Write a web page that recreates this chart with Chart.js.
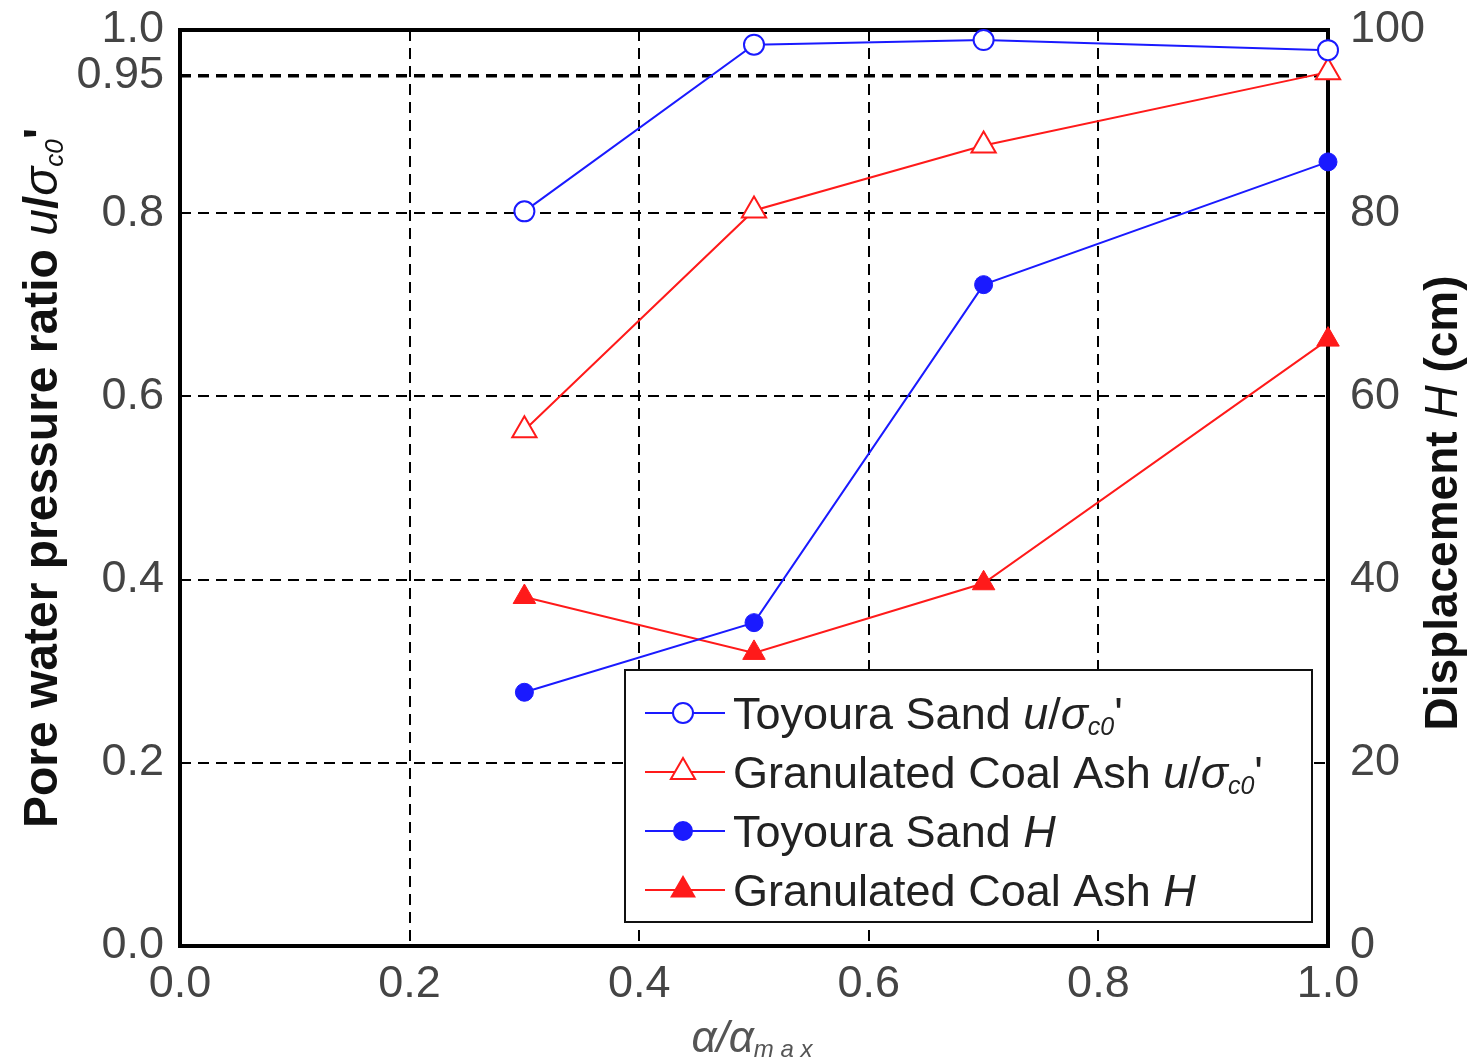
<!DOCTYPE html>
<html>
<head>
<meta charset="utf-8">
<script src="https://cdn.jsdelivr.net/npm/chart.js@4.4.0/dist/chart.umd.min.js"></script>
<style>
  body { margin: 0; background: #fff; }
</style>
</head>
<body>
<canvas id="grafico" width="1470" height="1058"></canvas>
<script>
// dados
const alphaRatio = [0.3, 0.5, 0.7, 1.0];
const toyouraU = [0.802, 0.984, 0.989, 0.978];
const coalAshU = [0.563, 0.803, 0.874, 0.954];
const toyouraH = [27.7, 35.3, 72.2, 85.6];
const coalAshH = [38.1, 32.0, 39.6, 66.2];

const yTicks = [0, 0.2, 0.4, 0.6, 0.8, 0.95, 1.0];
const y1Ticks = [0, 20, 40, 60, 80, 100];
const xTicks = [0, 0.2, 0.4, 0.6, 0.8, 1.0];

const FONTE = '"Liberation Sans", Arial, sans-serif';
const AZUL = '#1a1aff';
const VERMELHO = '#ff1a1a';

function pares(xs, ys) {
    return xs.map((x, i) => ({ x: x, y: ys[i] }));
}

// texto com partes em italico / subscrito
function textoRico(ctx, partes, x, y, tamanho, peso, cor, alinhar) {
    const fontDe = p => {
        let s = p[1] === 'sub' ? Math.round(tamanho * 0.55) : tamanho;
        let it = (p[1] === 'i' || p[1] === 'sub') ? 'italic ' : '';
        let w = (p[1] === 'sub' || p[1] === 'i') ? 'normal ' : peso + ' ';
        return it + w + s + 'px ' + FONTE;
    };
    let total = 0;
    partes.forEach(p => {
        ctx.font = fontDe(p);
        total += ctx.measureText(p[0]).width;
    });
    let cx = alinhar === 'center' ? x - total / 2 : x;
    ctx.fillStyle = cor;
    ctx.textBaseline = 'alphabetic';
    ctx.textAlign = 'left';
    partes.forEach(p => {
        ctx.font = fontDe(p);
        let dy = p[1] === 'sub' ? tamanho * 0.12 : 0;
        ctx.fillText(p[0], cx, y + tamanho * 0.36 + dy);
        cx += ctx.measureText(p[0]).width;
    });
}

const uSigma = [['u', 'i'], ['/', ''], ['σ', 'i'], ['c0', 'sub'], ["'", '']];

const legendaItens = [
    { ds: 0, partes: [['Toyoura Sand ', '']].concat(uSigma) },
    { ds: 1, partes: [['Granulated Coal Ash ', '']].concat(uSigma) },
    { ds: 2, partes: [['Toyoura Sand ', ''], ['H', 'i']] },
    { ds: 3, partes: [['Granulated Coal Ash ', ''], ['H', 'i']] }
];

const moldura = {
    id: 'moldura',
    beforeDatasetsDraw(chart) {
        const { ctx, chartArea: a } = chart;
        ctx.save();
        ctx.strokeStyle = '#000';
        ctx.lineWidth = 4;
        ctx.strokeRect(a.left, a.top, a.right - a.left, a.bottom - a.top);
        ctx.restore();
    },
    afterDraw(chart) {
        const { ctx, chartArea: a } = chart;
        ctx.save();

        // titulo do eixo esquerdo
        ctx.save();
        ctx.translate(40, (a.top + a.bottom) / 2 - 10);
        ctx.rotate(-Math.PI / 2);
        textoRico(ctx, [['Pore water pressure ratio ', '']].concat(uSigma), 0, 0, 48, 'bold', '#111', 'center');
        ctx.restore();

        // titulo do eixo direito
        ctx.save();
        ctx.translate(1440, (a.top + a.bottom) / 2 + 15);
        ctx.rotate(-Math.PI / 2);
        textoRico(ctx, [['Displacement ', ''], ['H', 'i'], [' (cm)', '']], 0, 0, 46, 'bold', '#111', 'center');
        ctx.restore();

        // titulo do eixo x
        textoRico(ctx, [['α/α', 'i'], ['m a x', 'sub']], (a.left + a.right) / 2 - 2, 1036, 44, 'normal', '#555', 'center');

        // legenda
        const bx = a.right - 703, by = a.bottom - 276, bw = 687, bh = 252;
        ctx.fillStyle = '#fff';
        ctx.fillRect(bx, by, bw, bh);
        ctx.strokeStyle = '#111';
        ctx.lineWidth = 2;
        ctx.strokeRect(bx, by, bw, bh);
        legendaItens.forEach((item, i) => {
            const ds = chart.data.datasets[item.ds];
            const ly = by + 43 + i * 59;
            ctx.strokeStyle = ds.borderColor;
            ctx.lineWidth = 2;
            ctx.beginPath();
            ctx.moveTo(bx + 20, ly);
            ctx.lineTo(bx + 100, ly);
            ctx.stroke();
            ctx.fillStyle = ds.pointBackgroundColor;
            ctx.strokeStyle = ds.borderColor;
            Chart.helpers.drawPoint(ctx, {
                pointStyle: ds.pointStyle,
                radius: ds.pointRadius,
                borderWidth: 2,
                rotation: 0
            }, bx + 58, ly);
            textoRico(ctx, item.partes, bx + 108, ly, 45, 'normal', '#222', 'left');
        });
        ctx.restore();
    }
};

// tira o espaco extra que o Chart.js reserva para os rotulos nas pontas
function semPaddingVertical(s) {
    s.paddingTop = 0;
    s.paddingBottom = 0;
}

const grafico = document.getElementById('grafico');
const graficoPoro = new Chart(grafico, {
    type: 'line',
    data: {
        datasets: [
            {
                label: "Toyoura Sand u/σc0'",
                data: pares(alphaRatio, toyouraU),
                borderColor: AZUL,
                pointBackgroundColor: '#fff',
                pointBorderColor: AZUL,
                pointStyle: 'circle',
                pointRadius: 10,
                pointBorderWidth: 2,
                borderWidth: 2,
                yAxisID: 'y',
                clip: false
            },
            {
                label: "Granulated Coal Ash u/σc0'",
                data: pares(alphaRatio, coalAshU),
                borderColor: VERMELHO,
                pointBackgroundColor: '#fff',
                pointBorderColor: VERMELHO,
                pointStyle: 'triangle',
                pointRadius: 14,
                pointBorderWidth: 2,
                borderWidth: 2,
                yAxisID: 'y',
                clip: false
            },
            {
                label: 'Toyoura Sand H',
                data: pares(alphaRatio, toyouraH),
                borderColor: AZUL,
                pointBackgroundColor: AZUL,
                pointBorderColor: AZUL,
                pointStyle: 'circle',
                pointRadius: 9,
                pointBorderWidth: 1,
                borderWidth: 2,
                yAxisID: 'y1',
                clip: false
            },
            {
                label: 'Granulated Coal Ash H',
                data: pares(alphaRatio, coalAshH),
                borderColor: VERMELHO,
                pointBackgroundColor: VERMELHO,
                pointBorderColor: VERMELHO,
                pointStyle: 'triangle',
                pointRadius: 13,
                pointBorderWidth: 1,
                borderWidth: 2,
                yAxisID: 'y1',
                clip: false
            }
        ]
    },
    options: {
        responsive: false,
        animation: false,
        devicePixelRatio: 1,
        layout: { padding: { top: 30, left: 0, right: 0, bottom: 0 } },
        plugins: {
            legend: { display: false },
            tooltip: { enabled: false }
        },
        scales: {
            x: {
                type: 'linear',
                min: 0,
                max: 1,
                afterBuildTicks: s => { s.ticks = xTicks.map(v => ({ value: v })); },
                afterFit: s => { s.height = 112; s.paddingLeft = 0; s.paddingRight = 0; },
                ticks: {
                    autoSkip: false,
                    maxRotation: 0,
                    padding: 12,
                    color: '#444',
                    font: { family: FONTE, size: 45 },
                    callback: v => v.toFixed(1)
                },
                grid: { color: '#000', lineWidth: 2, drawTicks: false },
                border: { display: false, dash: [11, 7] }
            },
            y: {
                position: 'left',
                min: 0,
                max: 1,
                afterBuildTicks: s => { s.ticks = yTicks.map(v => ({ value: v })); },
                afterFit: s => { s.width = 180; semPaddingVertical(s); },
                ticks: {
                    autoSkip: false,
                    padding: 16,
                    color: '#444',
                    font: { family: FONTE, size: 45 },
                    callback: v => v === 0.95 ? '0.95' : v.toFixed(1)
                },
                grid: {
                    color: '#000',
                    lineWidth: c => (c.tick && c.tick.value === 0.95) ? 3.5 : 2,
                    drawTicks: false
                },
                border: { display: false, dash: [11, 7] }
            },
            y1: {
                position: 'right',
                min: 0,
                max: 100,
                afterBuildTicks: s => { s.ticks = y1Ticks.map(v => ({ value: v })); },
                afterFit: s => { s.width = 142; semPaddingVertical(s); },
                ticks: {
                    autoSkip: false,
                    padding: 22,
                    color: '#444',
                    font: { family: FONTE, size: 45 }
                },
                grid: { drawOnChartArea: false, drawTicks: false },
                border: { display: false }
            }
        }
    },
    plugins: [moldura]
});
</script>
</body>
</html>
